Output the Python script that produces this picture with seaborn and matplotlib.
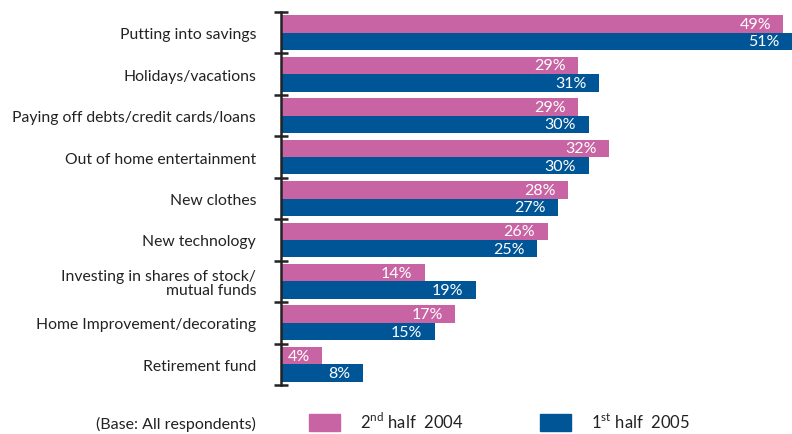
import pandas as pd
import matplotlib
matplotlib.use("Agg")
import matplotlib.pyplot as plt
import seaborn as sns
from matplotlib.patches import Patch

categories = [
    "Putting into savings",
    "Holidays/vacations",
    "Paying off debts/credit cards/loans",
    "Out of home entertainment",
    "New clothes",
    "New technology",
    "Investing in shares of stock/\nmutual funds",
    "Home Improvement/decorating",
    "Retirement fund",
]
h2_2004 = [49, 29, 29, 32, 28, 26, 14, 17, 4]
h1_2005 = [51, 31, 30, 30, 27, 25, 19, 15, 8]
series_names = ["2nd half 2004", "1st half 2005"]
legend_labels = [r"2$^{\mathrm{nd}}$ half  2004", r"1$^{\mathrm{st}}$ half  2005"]
colors = ["#C864A4", "#005597"]

df = pd.DataFrame({
    "category": categories * 2,
    "value": h2_2004 + h1_2005,
    "period": [series_names[0]] * len(categories) + [series_names[1]] * len(categories),
})

sns.set_style("white")
plt.rcParams["font.family"] = ["Lato", "DejaVu Sans"]
plt.rcParams["mathtext.fontset"] = "custom"
plt.rcParams["mathtext.rm"] = "Lato"

fig = plt.figure(figsize=(7.92, 4.35), dpi=100)
ax = fig.add_axes([281 / 792, 1 - 386 / 435, 1 - 281 / 792, (386 - 13) / 435])

sns.barplot(data=df, y="category", x="value", hue="period", orient="h",
            palette=colors, width=0.84, dodge=True, saturation=1,
            linewidth=0, legend=False, ax=ax)

xmax = (792 - 281) / 10.25
ax.set_xlim(0, xmax)
ax.set_ylim(len(categories) - 0.5, -0.5)

# value labels inside the bar ends
for container in ax.containers:
    for bar in container:
        w = bar.get_width()
        end = min(w, xmax)
        ax.text(end - 1.2, bar.get_y() + bar.get_height() / 2, f"{w:.0f}%",
                color="white", fontsize=11.5, ha="right", va="center")

for s in ["top", "right", "bottom"]:
    ax.spines[s].set_visible(False)
ax.spines["left"].set_color("#222222")
ax.spines["left"].set_linewidth(1.8)
ax.set_xticks([])
bounds = [i - 0.5 for i in range(len(categories) + 1)]
ax.set_yticks(bounds)
ax.set_yticklabels([])
ax.tick_params(axis="y", which="major", direction="inout", length=10, width=1.8,
               color="#222222", left=True)
ax.set_yticks(range(len(categories)), minor=True)
ax.set_yticklabels(categories, minor=True, fontsize=11.3, color="#222222",
                   ha="right", linespacing=1.0)
ax.tick_params(axis="y", which="minor", length=0, pad=18)
ax.set_xlabel("")
ax.set_ylabel("")

fig.text(256 / 792, 1 - 424 / 435, "(Base: All respondents)", fontsize=11.5,
         color="#222222", ha="right", va="center")
handles = [Patch(color=c, label=l) for c, l in zip(colors, legend_labels)]
fig.legend(handles=handles, ncol=2, frameon=False, fontsize=12,
           loc="center left", bbox_to_anchor=(294 / 792, 1 - 422 / 435),
           handlelength=1.85, handleheight=1.25, columnspacing=4.6,
           handletextpad=1.2, labelcolor="#222222")

fig.savefig("out.png", dpi=100)
